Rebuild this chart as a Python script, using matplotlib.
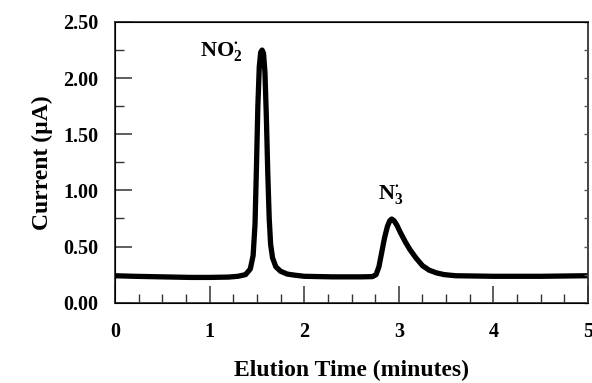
import matplotlib
matplotlib.use("Agg")
import matplotlib.pyplot as plt
from matplotlib.ticker import MultipleLocator, FormatStrFormatter

plt.rcParams['font.family'] = ['Liberation Serif', 'DejaVu Serif']
plt.rcParams['font.weight'] = 'bold'
plt.rcParams['mathtext.fontset'] = 'custom'
plt.rcParams['mathtext.rm'] = 'Liberation Serif:bold'
plt.rcParams['mathtext.it'] = 'Liberation Serif:bold'
plt.rcParams['mathtext.bf'] = 'Liberation Serif:bold'

# Chromatogram trace (time in minutes, current in µA)
time_min = [0.00, 0.20, 0.50, 0.80, 1.00, 1.20, 1.30, 1.38, 1.43, 1.46,
            1.48, 1.495, 1.51, 1.525, 1.54, 1.555, 1.57, 1.585, 1.60, 1.615,
            1.63, 1.645, 1.665, 1.70, 1.75, 1.82, 1.90, 2.00, 2.30, 2.60, 2.72,
            2.76, 2.79, 2.82, 2.85, 2.88, 2.905, 2.925, 2.95, 2.98, 3.02, 3.07,
            3.12, 3.18, 3.25, 3.32, 3.40, 3.48, 3.60, 4.00, 4.50, 5.00]
current_uA = [0.24, 0.235, 0.23, 0.225, 0.225, 0.228, 0.235, 0.25, 0.30, 0.42,
              0.70, 1.20, 1.75, 2.10, 2.23, 2.25, 2.22, 2.05, 1.65, 1.15,
              0.75, 0.52, 0.40, 0.32, 0.28, 0.255, 0.245, 0.235, 0.23, 0.23, 0.232,
              0.25, 0.32, 0.45, 0.58, 0.68, 0.73, 0.745, 0.73, 0.69, 0.62, 0.54,
              0.47, 0.40, 0.33, 0.29, 0.265, 0.25, 0.24, 0.235, 0.235, 0.24]

x_ticks = [0, 1, 2, 3, 4, 5]
y_ticks = [0.00, 0.50, 1.00, 1.50, 2.00, 2.50]
peak_labels = [r'NO$_2^{\bullet}$', r'N$_3^{\bullet}$']
peak_label_pos = [(1.12, 2.23), (2.91, 0.96)]

fig = plt.figure(figsize=(5.92, 3.83), dpi=100)
ax = fig.add_axes([0.1943, 0.2097, 0.7989, 0.7329])

ax.plot(time_min, current_uA, color='black', lw=3.8, solid_capstyle='round',
        solid_joinstyle='round')

ax.set_xlim(0, 5)
ax.set_ylim(0, 2.5)
ax.set_xticks(x_ticks)
ax.set_yticks(y_ticks)
ax.xaxis.set_minor_locator(MultipleLocator(0.25))
ax.yaxis.set_minor_locator(MultipleLocator(0.25))
ax.yaxis.set_major_formatter(FormatStrFormatter('%.2f'))

for s in ax.spines.values():
    s.set_linewidth(1.3)
    s.set_color('#333333')

ax.tick_params(axis='both', which='major', direction='in', length=12.5, width=1.1,
               colors='#333333', labelcolor='black', labelsize=14.5)
ax.tick_params(axis='both', which='minor', direction='in', length=6.5, width=1.0,
               colors='#333333')
ax.tick_params(axis='x', which='major', pad=14)
ax.tick_params(axis='y', which='major', pad=12)

# short inward ticks on the right spine
axr = ax.twinx()
axr.set_ylim(0, 2.5)
axr.set_yticks(y_ticks)
axr.yaxis.set_minor_locator(MultipleLocator(0.25))
axr.tick_params(axis='y', which='both', direction='in', length=3, width=1.0,
                colors='#555555', labelright=False)
axr.spines['right'].set_visible(False)

for lbl, (lx, ly) in zip(peak_labels, peak_label_pos):
    ax.text(lx, ly, lbl, fontsize=16, fontweight='bold', ha='center', va='center')

ax.set_xlabel('Elution Time (minutes)', fontsize=17, fontweight='bold', labelpad=13)
ax.set_ylabel('Current (µA)', fontsize=17, fontweight='bold', labelpad=7)

fig.savefig('out.png', dpi=100)
